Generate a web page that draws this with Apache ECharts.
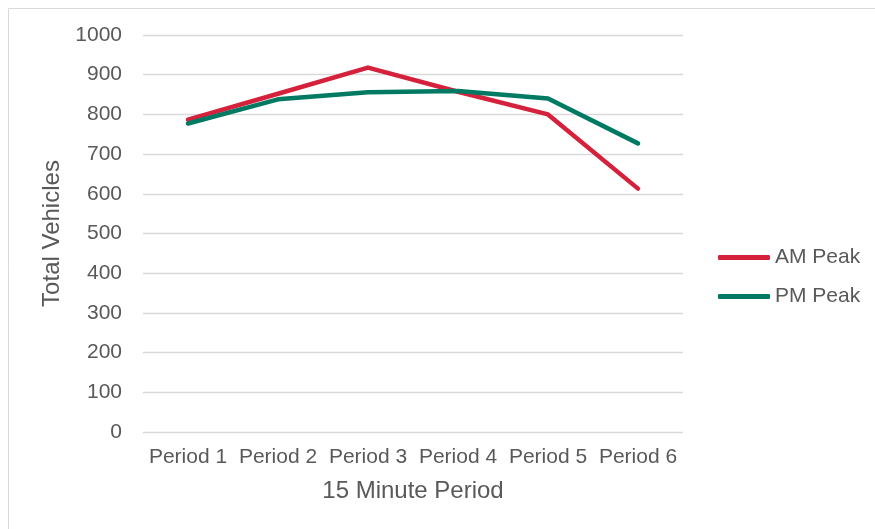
<!DOCTYPE html>
<html>
<head>
<meta charset="utf-8">
<script src="https://cdn.jsdelivr.net/npm/echarts@6/dist/echarts.min.js"></script>
<style>
  html, body { margin: 0; padding: 0; background: #fff; }
  #chart { width: 875px; height: 529px; }
</style>
</head>
<body>
<div id="chart"></div>
<script>
// Traffic counts per 15-minute period
const periods = ['Period 1', 'Period 2', 'Period 3', 'Period 4', 'Period 5', 'Period 6'];
const amPeak = [787, 852, 918, 857, 800, 613];
const pmPeak = [777, 838, 856, 859, 840, 727];
const seriesNames = ['AM Peak', 'PM Peak'];
const seriesColors = ['#D5213B', '#017A63'];

const textColor = '#595959';
const fontFamily = '"Liberation Sans", Arial, sans-serif';

const chart = echarts.init(document.getElementById('chart'), null, { renderer: 'canvas' });

chart.setOption({
  animation: false,
  backgroundColor: '#ffffff',
  textStyle: { fontFamily: fontFamily, color: textColor },
  graphic: [{
    type: 'rect',
    silent: true,
    shape: { x: 8.5, y: 8.5, width: 900, height: 600 },
    style: { fill: 'none', stroke: '#D9D9D9', lineWidth: 1 }
  }],
  grid: { left: 143, right: 192, top: 35, bottom: 97 },
  legend: {
    orient: 'vertical',
    left: 713,
    top: 242,
    itemWidth: 52,
    itemHeight: 5,
    itemGap: 18,
    icon: 'roundRect',
    data: seriesNames,
    textStyle: { fontFamily: fontFamily, fontSize: 21, color: textColor, lineHeight: 21 }
  },
  xAxis: {
    type: 'category',
    data: periods,
    boundaryGap: true,
    axisLine: { show: false },
    axisTick: { show: false },
    axisLabel: { margin: 15, fontSize: 21, color: textColor, fontFamily: fontFamily, interval: 0 },
    name: '15 Minute Period',
    nameLocation: 'middle',
    nameGap: 47,
    nameTextStyle: { fontSize: 24, color: textColor, fontFamily: fontFamily }
  },
  yAxis: {
    type: 'value',
    min: 0,
    max: 1000,
    interval: 100,
    axisLine: { show: false },
    axisTick: { show: false },
    axisLabel: {
      margin: 21, fontSize: 21, color: textColor, fontFamily: fontFamily,
      formatter: (v) => String(v)
    },
    splitLine: { lineStyle: { color: '#D9D9D9', width: 1.4 } },
    name: 'Total Vehicles',
    nameLocation: 'middle',
    nameGap: 78,
    nameTextStyle: { fontSize: 24, color: textColor, fontFamily: fontFamily }
  },
  series: [
    {
      name: seriesNames[0],
      type: 'line',
      data: amPeak,
      symbol: 'none',
      color: seriesColors[0],
      lineStyle: { width: 4.5, color: seriesColors[0], cap: 'round', join: 'round' }
    },
    {
      name: seriesNames[1],
      type: 'line',
      data: pmPeak,
      symbol: 'none',
      color: seriesColors[1],
      lineStyle: { width: 4.5, color: seriesColors[1], cap: 'round', join: 'round' }
    }
  ]
});
</script>
</body>
</html>
